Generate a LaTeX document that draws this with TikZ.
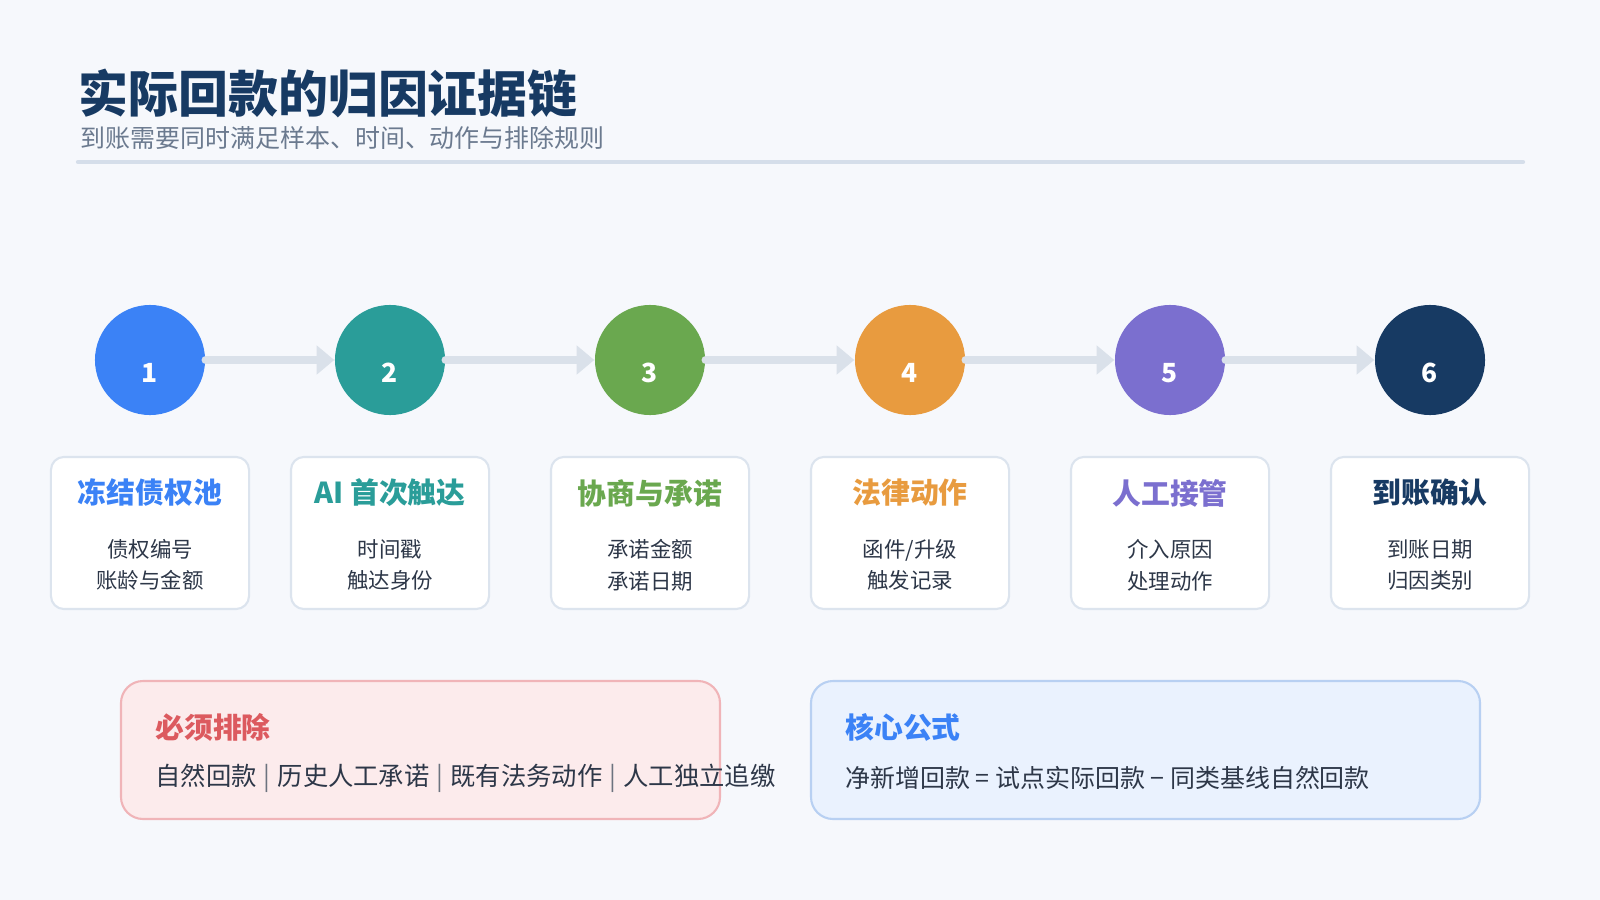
\documentclass[tikz,border=0pt]{standalone}
\usepackage{fontspec}
\setmainfont{Noto Sans CJK SC}
\usetikzlibrary{arrows.meta}
\definecolor{bgc}{HTML}{F6F8FC}
\definecolor{ink}{HTML}{2D3748}
\definecolor{navy}{HTML}{173A63}
\definecolor{subc}{HTML}{6B7A8F}
\definecolor{rulec}{HTML}{D5DEEA}
\definecolor{linkc}{HTML}{DAE1EA}
\definecolor{cardb}{HTML}{DCE4EE}
\definecolor{cA}{HTML}{3B82F6}
\definecolor{cB}{HTML}{2A9D99}
\definecolor{cC}{HTML}{6AA84F}
\definecolor{cD}{HTML}{E89B3F}
\definecolor{cE}{HTML}{7B6FCF}
\definecolor{cF}{HTML}{173A63}
\definecolor{redc}{HTML}{DC5A5F}
\definecolor{pinkf}{HTML}{FCEBEC}
\definecolor{pinkb}{HTML}{F0B4B8}
\definecolor{bluef}{HTML}{EAF2FE}
\definecolor{blueb}{HTML}{B8D0F2}
\newcommand{\sepbar}{\hspace{0.28em}{\color{ink!70}|}\hspace{0.28em}}
\begin{document}
\begin{tikzpicture}[line cap=round,line join=round,x=0.01cm,y=-0.01cm,
  dot/.style={circle,minimum size=1.1cm,inner sep=0pt},
  card/.style={draw=cardb,line width=0.6pt,fill=white,rounded corners=0.13cm,minimum width=1.98cm,minimum height=1.52cm},
  link/.style={draw=linkc,line width=2.4pt,-{Triangle[length=5pt,width=8pt]}},
  note/.style={rounded corners=0.22cm,line width=0.6pt}]
\fill[bgc] (0,0) rectangle (1600,900);
\node[anchor=west,font=\bfseries\fontsize{14.2}{15}\selectfont,text=navy] (title) at (66,93) {实际回款的归因证据链};
\node[anchor=west,font=\fontsize{7.1}{8}\selectfont,text=subc] (sub) at (68,138) {到账需要同时满足样本、时间、动作与排除规则};
\draw[rulec,line width=1.2pt] (78,162) -- (1523,162);
% steps
\foreach \i/\px/\c/\t/\a/\b in {1/150/cA/冻结债权池/债权编号/账龄与金额,
  2/390/cB/AI 首次触达/时间戳/触达身份,
  3/650/cC/协商与承诺/承诺金额/承诺日期,
  4/910/cD/法律动作/{函件/升级}/触发记录,
  5/1170/cE/人工接管/介入原因/处理动作,
  6/1430/cF/到账确认/到账日期/归因类别}{
  \node[dot,fill=\c] (s\i) at (\px,360) {};
  \node[text=white,font=\bfseries\fontsize{7.5}{9}\selectfont] (n\i) at (\px,373) {\i};
  \node[card] (k\i) at (\px,533) {};
  \node[text=\c,font=\bfseries\fontsize{8.2}{10}\selectfont] (h\i) at (\px,493) {\t};
  \node[text=ink,font=\fontsize{6.1}{9}\selectfont,align=center] (d\i) at (\px,565) {\a\\\b};
}
\foreach \i/\j in {1/2,2/3,3/4,4/5,5/6}
  \draw[link] (s\i) -- (s\j);
% bottom notes
\draw[note,fill=pinkf,draw=pinkb] (121,681) rectangle (720,819);
\node[anchor=west,text=redc,font=\bfseries\fontsize{8.2}{10}\selectfont] (ex) at (143,727) {必须排除};
\node[anchor=west,text=ink,font=\fontsize{7.2}{9}\selectfont] (exl) at (143,778)
  {自然回款\sepbar 历史人工承诺\sepbar 既有法务动作\sepbar 人工独立追缴};
\draw[note,fill=bluef,draw=blueb] (811,681) rectangle (1480,819);
\node[anchor=west,text=cA,font=\bfseries\fontsize{8.2}{10}\selectfont] (fm) at (833,727) {核心公式};
\node[anchor=west,text=ink,font=\fontsize{7.1}{9}\selectfont] (fml) at (833,778)
  {净新增回款 = 试点实际回款 − 同类基线自然回款};
\end{tikzpicture}
\end{document}
